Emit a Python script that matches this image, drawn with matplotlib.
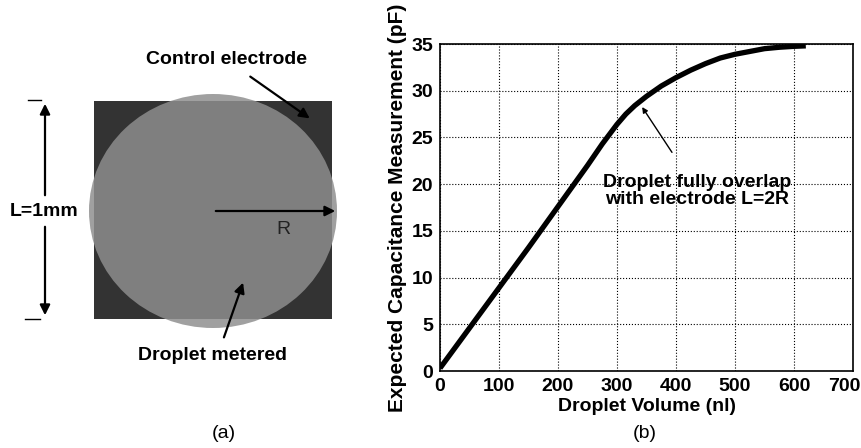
import matplotlib

matplotlib.use("Agg")
import matplotlib.patches as mpatches
import matplotlib.pyplot as plt
import matplotlib.transforms as mtransforms

# capacitance curve (b)
volume_nl = [0, 50, 100, 150, 200, 250, 275, 300, 315, 330, 350, 375, 400, 425, 450, 475, 500, 525, 550, 575, 600, 620]
capacitance_pf = [0.3, 4.6, 8.9, 13.2, 17.6, 22.0, 24.3, 26.4, 27.5, 28.4, 29.4, 30.5, 31.4, 32.2, 32.9, 33.5, 33.9, 34.2, 34.5, 34.65, 34.75, 34.8]
x_ticks = [0, 100, 200, 300, 400, 500, 600, 700]
y_ticks = [0, 5, 10, 15, 20, 25, 30, 35]

W, H = 861, 448
FS = 14
plt.rcParams["font.family"] = ["Liberation Sans", "DejaVu Sans"]
fig = plt.figure(figsize=(W / 100, H / 100), dpi=100)

# ---- panel (a): drawn in pixel coordinates
ax_a = fig.add_axes([0, 0, 380 / W, 1])
ax_a.set_xlim(0, 380)
ax_a.set_ylim(H, 0)
ax_a.axis("off")

ax_a.add_patch(mpatches.Rectangle((94, 101), 238, 218, facecolor="#333333", edgecolor="none"))
ax_a.add_patch(mpatches.Ellipse((213, 211), 248, 234, facecolor="#8e8e8e", alpha=0.84, edgecolor="none"))

arrow = dict(arrowstyle="-|>", color="black", lw=1.6, mutation_scale=15)
ax_a.annotate("", xy=(45, 101), xytext=(45, 198), arrowprops=arrow)
ax_a.annotate("", xy=(45, 318), xytext=(45, 224), arrowprops=arrow)
ax_a.plot([28, 41], [100, 100], color="black", lw=1)
ax_a.plot([25, 40], [319, 319], color="black", lw=1)
ax_a.text(44, 211, "L=1mm", ha="center", va="center", fontsize=FS, fontweight="bold")

ax_a.annotate("", xy=(338, 211), xytext=(213, 211), arrowprops=arrow)
ax_a.text(283, 230, "R", ha="center", va="center", fontsize=FS, color="#222222")

ax_a.text(226, 59, "Control electrode", ha="center", va="center", fontsize=FS, fontweight="bold")
ax_a.annotate("", xy=(312, 120), xytext=(248, 75), arrowprops=arrow)

ax_a.text(213, 356, "Droplet metered", ha="center", va="center", fontsize=FS, fontweight="bold")
ax_a.annotate("", xy=(244, 280), xytext=(223, 340), arrowprops=arrow)

ax_a.text(224, 433, "(a)", ha="center", va="center", fontsize=FS)

# ---- panel (b)
ax_b = fig.add_axes([440 / W, (H - 371) / H, (853 - 440) / W, (371 - 44) / H])
ax_b.plot(volume_nl, capacitance_pf, color="black", lw=3.8, solid_capstyle="butt")
ax_b.set_xlim(0, 700)
ax_b.set_ylim(0, 35)
ax_b.set_xticks(x_ticks)
ax_b.set_yticks(y_ticks)
ax_b.grid(True, color="black", linestyle=":", linewidth=0.8)
ax_b.tick_params(direction="in", length=0, labelsize=FS, pad=5)
for lbl in ax_b.get_xticklabels() + ax_b.get_yticklabels():
    lbl.set_fontweight("bold")
last = ax_b.get_xticklabels()[-1]
last.set_transform(last.get_transform() + mtransforms.ScaledTranslation(-0.09, 0, fig.dpi_scale_trans))
for sp in ax_b.spines.values():
    sp.set_linewidth(1.2)
ax_b.set_xlabel("Droplet Volume (nl)", fontsize=FS, fontweight="bold", labelpad=2)
ax_b.set_ylabel("Expected Capacitance Measurement (pF)", fontsize=15, fontweight="bold", labelpad=3)

ax_b.annotate(
    "Droplet fully overlap\nwith electrode L=2R",
    xy=(340, 28.5),
    xytext=(436, 19.3),
    ha="center",
    va="center",
    fontsize=FS,
    fontweight="bold",
    linespacing=1.0,
    arrowprops=dict(arrowstyle="-|>", color="black", lw=1.0, mutation_scale=8, shrinkA=16),
)

fig.text(645 / W, 1 - 433 / H, "(b)", ha="center", va="center", fontsize=FS)

fig.savefig("out.png", dpi=100)
